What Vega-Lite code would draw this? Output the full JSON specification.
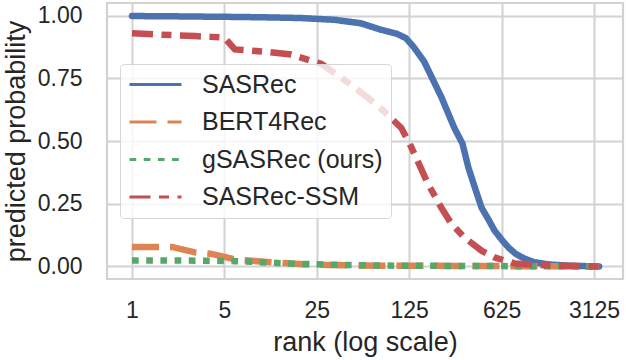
{
  "$schema": "https://vega.github.io/schema/vega-lite/v6.json",
  "width": 516,
  "height": 276,
  "autosize": {"type": "none"},
  "padding": {"left": 107, "top": 3, "right": 3, "bottom": 81},
  "background": "white",
  "config": {
    "font": "Liberation Sans",
    "view": {"stroke": "#d2d2d2", "strokeWidth": 2.2},
    "axis": {
      "domain": false,
      "ticks": false,
      "tickSize": 0,
      "grid": true,
      "gridColor": "#d2d2d2",
      "gridWidth": 2,
      "labelColor": "#262626",
      "titleColor": "#262626",
      "labelFontSize": 23,
      "titleFontSize": 27,
      "titleFontWeight": "normal",
      "labelFont": "Liberation Sans",
      "titleFont": "Liberation Sans"
    }
  },
  "data": {
    "values": [
      {"model": "SASRec", "rank": 1, "prob": 0.998},
      {"model": "SASRec", "rank": 2, "prob": 0.997},
      {"model": "SASRec", "rank": 3, "prob": 0.996},
      {"model": "SASRec", "rank": 5, "prob": 0.995},
      {"model": "SASRec", "rank": 10, "prob": 0.993},
      {"model": "SASRec", "rank": 19, "prob": 0.99},
      {"model": "SASRec", "rank": 34, "prob": 0.983},
      {"model": "SASRec", "rank": 54, "prob": 0.969},
      {"model": "SASRec", "rank": 77, "prob": 0.943},
      {"model": "SASRec", "rank": 100, "prob": 0.928},
      {"model": "SASRec", "rank": 118, "prob": 0.91},
      {"model": "SASRec", "rank": 135, "prob": 0.875},
      {"model": "SASRec", "rank": 162, "prob": 0.817},
      {"model": "SASRec", "rank": 219, "prob": 0.675},
      {"model": "SASRec", "rank": 274, "prob": 0.553},
      {"model": "SASRec", "rank": 316, "prob": 0.49},
      {"model": "SASRec", "rank": 351, "prob": 0.393},
      {"model": "SASRec", "rank": 395, "prob": 0.31},
      {"model": "SASRec", "rank": 441, "prob": 0.234},
      {"model": "SASRec", "rank": 500, "prob": 0.185},
      {"model": "SASRec", "rank": 553, "prob": 0.143},
      {"model": "SASRec", "rank": 630, "prob": 0.105},
      {"model": "SASRec", "rank": 706, "prob": 0.075},
      {"model": "SASRec", "rank": 800, "prob": 0.05},
      {"model": "SASRec", "rank": 935, "prob": 0.031},
      {"model": "SASRec", "rank": 1100, "prob": 0.017},
      {"model": "SASRec", "rank": 1422, "prob": 0.008},
      {"model": "SASRec", "rank": 2000, "prob": 0.003},
      {"model": "SASRec", "rank": 3416, "prob": 0.0},
      {"model": "BERT4Rec", "rank": 1, "prob": 0.078},
      {"model": "BERT4Rec", "rank": 2, "prob": 0.078},
      {"model": "BERT4Rec", "rank": 3, "prob": 0.056},
      {"model": "BERT4Rec", "rank": 4, "prob": 0.05},
      {"model": "BERT4Rec", "rank": 5, "prob": 0.038},
      {"model": "BERT4Rec", "rank": 6, "prob": 0.028},
      {"model": "BERT4Rec", "rank": 8, "prob": 0.023},
      {"model": "BERT4Rec", "rank": 10, "prob": 0.019},
      {"model": "BERT4Rec", "rank": 15, "prob": 0.013},
      {"model": "BERT4Rec", "rank": 20, "prob": 0.009},
      {"model": "BERT4Rec", "rank": 30, "prob": 0.006},
      {"model": "BERT4Rec", "rank": 50, "prob": 0.004},
      {"model": "BERT4Rec", "rank": 100, "prob": 0.003},
      {"model": "BERT4Rec", "rank": 300, "prob": 0.002},
      {"model": "BERT4Rec", "rank": 1000, "prob": 0.001},
      {"model": "BERT4Rec", "rank": 3416, "prob": 0.0},
      {"model": "gSASRec (ours)", "rank": 1, "prob": 0.024},
      {"model": "gSASRec (ours)", "rank": 2, "prob": 0.024},
      {"model": "gSASRec (ours)", "rank": 3, "prob": 0.023},
      {"model": "gSASRec (ours)", "rank": 4, "prob": 0.023},
      {"model": "gSASRec (ours)", "rank": 5, "prob": 0.022},
      {"model": "gSASRec (ours)", "rank": 6, "prob": 0.021},
      {"model": "gSASRec (ours)", "rank": 8, "prob": 0.019},
      {"model": "gSASRec (ours)", "rank": 10, "prob": 0.016},
      {"model": "gSASRec (ours)", "rank": 15, "prob": 0.012},
      {"model": "gSASRec (ours)", "rank": 20, "prob": 0.01},
      {"model": "gSASRec (ours)", "rank": 30, "prob": 0.007},
      {"model": "gSASRec (ours)", "rank": 50, "prob": 0.005},
      {"model": "gSASRec (ours)", "rank": 100, "prob": 0.003},
      {"model": "gSASRec (ours)", "rank": 300, "prob": 0.002},
      {"model": "gSASRec (ours)", "rank": 1000, "prob": 0.001},
      {"model": "gSASRec (ours)", "rank": 3416, "prob": 0.0},
      {"model": "SASRec-SSM", "rank": 1, "prob": 0.929},
      {"model": "SASRec-SSM", "rank": 2, "prob": 0.922},
      {"model": "SASRec-SSM", "rank": 3, "prob": 0.918},
      {"model": "SASRec-SSM", "rank": 4, "prob": 0.915},
      {"model": "SASRec-SSM", "rank": 5, "prob": 0.912},
      {"model": "SASRec-SSM", "rank": 6, "prob": 0.865},
      {"model": "SASRec-SSM", "rank": 8, "prob": 0.86},
      {"model": "SASRec-SSM", "rank": 10, "prob": 0.856},
      {"model": "SASRec-SSM", "rank": 16, "prob": 0.845},
      {"model": "SASRec-SSM", "rank": 22, "prob": 0.822},
      {"model": "SASRec-SSM", "rank": 27, "prob": 0.808},
      {"model": "SASRec-SSM", "rank": 40, "prob": 0.745},
      {"model": "SASRec-SSM", "rank": 61, "prob": 0.672},
      {"model": "SASRec-SSM", "rank": 80, "prob": 0.62},
      {"model": "SASRec-SSM", "rank": 109, "prob": 0.552},
      {"model": "SASRec-SSM", "rank": 129, "prob": 0.478},
      {"model": "SASRec-SSM", "rank": 145, "prob": 0.42},
      {"model": "SASRec-SSM", "rank": 173, "prob": 0.33},
      {"model": "SASRec-SSM", "rank": 219, "prob": 0.234},
      {"model": "SASRec-SSM", "rank": 261, "prob": 0.17},
      {"model": "SASRec-SSM", "rank": 327, "prob": 0.115},
      {"model": "SASRec-SSM", "rank": 441, "prob": 0.063},
      {"model": "SASRec-SSM", "rank": 553, "prob": 0.036},
      {"model": "SASRec-SSM", "rank": 785, "prob": 0.012},
      {"model": "SASRec-SSM", "rank": 1422, "prob": 0.004},
      {"model": "SASRec-SSM", "rank": 3416, "prob": 0.0}
    ]
  },
  "encoding": {
    "x": {
      "field": "rank",
      "type": "quantitative",
      "scale": {"type": "log", "base": 5, "domain": [0.647, 5180], "nice": false, "zero": false},
      "axis": {"title": "rank (log scale)", "values": [1, 5, 25, 125, 625, 3125], "format": "d", "labelPadding": 20, "titlePadding": 7, "labelFlush": false}
    },
    "y": {
      "field": "prob",
      "type": "quantitative",
      "scale": {"domain": [-0.05, 1.05], "nice": false, "zero": false},
      "axis": {"title": "predicted probability", "values": [0, 0.25, 0.5, 0.75, 1], "format": ".2f", "labelPadding": 25, "titlePadding": 7}
    },
    "color": {
      "field": "model",
      "type": "nominal",
      "scale": {
        "domain": ["SASRec", "BERT4Rec", "gSASRec (ours)", "SASRec-SSM"],
        "range": ["#4C72B0", "#DD8452", "#55A868", "#C44E52"]
      },
      "legend": {
        "title": null,
        "orient": "none",
        "legendX": 13,
        "legendY": 61,
        "symbolType": "stroke",
        "symbolSize": 2704,
        "symbolStrokeWidth": 3,
        "clipHeight": 25,
        "labelFontSize": 25,
        "labelColor": "#262626",
        "labelFont": "Liberation Sans",
        "labelOffset": 19,
        "labelLimit": 400,
        "rowPadding": 11.5,
        "padding": 8,
        "fillColor": "rgba(255,255,255,0.8)",
        "strokeColor": "#d6d6d6",
        "cornerRadius": 4,
        "encode": {
          "symbols": {
            "update": {
              "strokeDash": {"signal": "datum.value === 'BERT4Rec' ? [14, 5] : datum.value === 'gSASRec (ours)' ? [4, 3.7] : datum.value === 'SASRec-SSM' ? [11, 4, 5.5, 4] : [1, 0]"},
              "strokeWidth": {"value": 3}
            }
          }
        }
      }
    },
    "strokeDash": {
      "field": "model",
      "type": "nominal",
      "scale": {
        "domain": ["SASRec", "BERT4Rec", "gSASRec (ours)", "SASRec-SSM"],
        "range": [[1, 0], [27, 11], [6.7, 7.5], [21, 8.5, 10, 8.5]]
      },
      "legend": null
    }
  },
  "layer": [
    {"transform": [{"filter": "datum.model === 'SASRec'"}], "mark": {"type": "line", "strokeWidth": 6.5, "strokeCap": "round"}},
    {"transform": [{"filter": "datum.model === 'BERT4Rec'"}], "mark": {"type": "line", "strokeWidth": 6.5, "strokeCap": "butt"}},
    {"transform": [{"filter": "datum.model === 'gSASRec (ours)'"}], "mark": {"type": "line", "strokeWidth": 6.5, "strokeCap": "butt"}},
    {"transform": [{"filter": "datum.model === 'SASRec-SSM'"}], "mark": {"type": "line", "strokeWidth": 6.5, "strokeCap": "butt"}}
  ]
}
